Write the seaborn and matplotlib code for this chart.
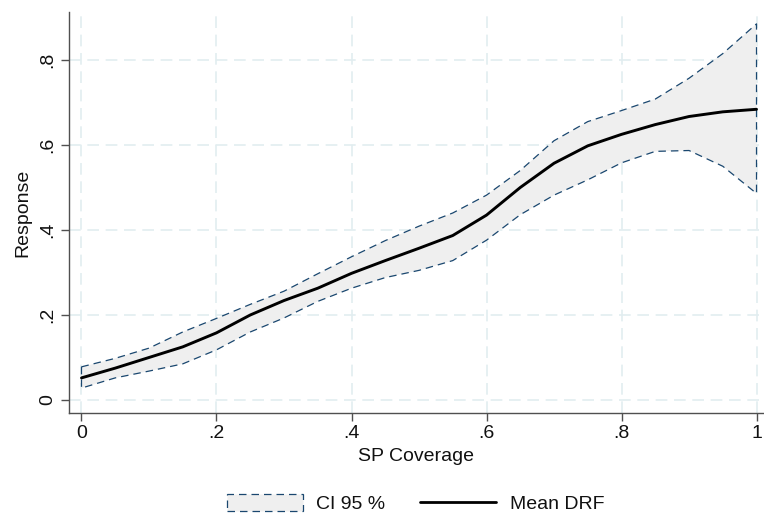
import matplotlib
matplotlib.use("Agg")
import matplotlib.pyplot as plt
import seaborn as sns
import pandas as pd
from matplotlib.patches import Patch
from matplotlib.lines import Line2D

# values
coverage = [0.00, 0.05, 0.10, 0.15, 0.20, 0.25, 0.30, 0.35, 0.40, 0.45, 0.50,
            0.55, 0.60, 0.65, 0.70, 0.75, 0.80, 0.85, 0.90, 0.95, 1.00]
mean_drf = [0.052, 0.075, 0.100, 0.125, 0.158, 0.200, 0.234, 0.263, 0.298, 0.328, 0.357,
            0.387, 0.435, 0.500, 0.557, 0.598, 0.625, 0.648, 0.667, 0.678, 0.684]
ci_upper = [0.078, 0.098, 0.122, 0.160, 0.192, 0.225, 0.256, 0.297, 0.337, 0.375, 0.409,
            0.440, 0.482, 0.540, 0.610, 0.655, 0.681, 0.708, 0.757, 0.815, 0.885]
ci_lower = [0.028, 0.052, 0.068, 0.085, 0.118, 0.160, 0.193, 0.232, 0.263, 0.288, 0.305,
            0.328, 0.376, 0.436, 0.482, 0.518, 0.558, 0.585, 0.587, 0.550, 0.486]

tick_vals = [0, 0.2, 0.4, 0.6, 0.8, 1.0]
tick_labels = ["0", ".2", ".4", ".6", ".8", "1"]

df = pd.DataFrame({"coverage": coverage, "mean": mean_drf})

sns.set_style("white")
plt.rcParams["font.family"] = ["Liberation Sans", "DejaVu Sans"]

navy = "#1a476f"
fill = "#efefef"
grid_c = "#e2edf0"

fig = plt.figure(figsize=(7.64, 5.15), dpi=100)
ax = fig.add_axes([69 / 764, 1 - 413 / 515, (763 - 69) / 764, (413 - 12) / 515])

# grid
for v in tick_vals:
    ax.axvline(v, color=grid_c, lw=1.2, ls=(0, (7, 4)), zorder=0)
for v in tick_vals[:-1]:
    ax.axhline(v, color=grid_c, lw=1.2, ls=(0, (7, 4)), zorder=0)

ax.fill_between(coverage, ci_lower, ci_upper, facecolor=fill, edgecolor=navy,
                linestyle=(0, (6, 4)), linewidth=0.9, zorder=1)
sns.lineplot(data=df, x="coverage", y="mean", color="black", lw=2.1, ax=ax, zorder=2)

ax.set_xlim(-0.0185, 1.0096)
ax.set_ylim(-0.0306, 0.9129)
ax.set_xticks(tick_vals)
ax.set_xticklabels(tick_labels, fontsize=14)
ax.set_yticks(tick_vals[:-1])
ax.set_yticklabels(tick_labels[:-1], fontsize=14, rotation=90, va="center")
ax.tick_params(direction="out", length=6, width=1, color="#505050", pad=3,
               bottom=True, left=True, labelcolor="#111111")
ax.set_xlabel("SP Coverage", fontsize=14, labelpad=4, color="#111111")
ax.set_ylabel("Response", fontsize=14, labelpad=6, color="#111111")

for s in ["top", "right"]:
    ax.spines[s].set_visible(False)
for s in ["left", "bottom"]:
    ax.spines[s].set_color("#505050")
    ax.spines[s].set_linewidth(1)

handles = [Patch(facecolor=fill, edgecolor=navy, linestyle=(0, (6, 4)), linewidth=0.9),
           Line2D([], [], color="black", lw=2)]
fig.legend(handles, ["CI 95 %", "Mean DRF"], loc="center", bbox_to_anchor=(0.544, 0.022),
           ncol=2, frameon=False, fontsize=14, handlelength=3.9, handleheight=1.0,
           handletextpad=0.7, columnspacing=1.8, labelcolor="#111111")

fig.savefig("out.png", dpi=100)
